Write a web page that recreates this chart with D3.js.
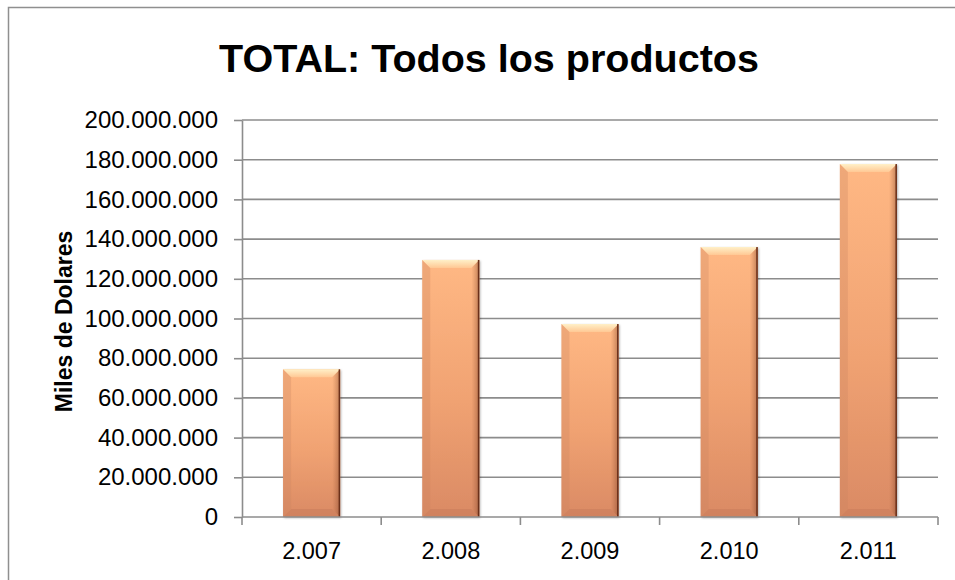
<!DOCTYPE html>
<html>
<head>
<meta charset="utf-8">
<script src="https://cdn.jsdelivr.net/npm/d3@7"></script>
<style>
  html, body { margin: 0; padding: 0; background: #fff; }
  #chart { width: 955px; height: 580px; overflow: hidden; }
  svg { display: block; font-family: "Liberation Sans", Arial, sans-serif; }
</style>
</head>
<body>
<div id="chart"></div>
<script>
// Datos (miles de dólares)
const years = ["2.007", "2.008", "2.009", "2.010", "2.011"];
const totals = [74400000, 129500000, 97200000, 136000000, 177800000];
const yTicks = [0, 20000000, 40000000, 60000000, 80000000, 100000000, 120000000, 140000000, 160000000, 180000000, 200000000];

const W = 955, H = 580;
const plot = { left: 242, right: 938, top: 120, bottom: 517 };

const svg = d3.select("#chart").append("svg")
  .attr("width", W).attr("height", H);

// marco exterior
svg.append("rect")
  .attr("x", 8.5).attr("y", 7.5)
  .attr("width", W).attr("height", H)
  .attr("fill", "none").attr("stroke", "#8f8f8f").attr("stroke-width", 1.5);

const x = d3.scaleBand().domain(years)
  .range([plot.left, plot.right])
  .paddingInner(0.59).paddingOuter(0.295);
const y = d3.scaleLinear().domain([0, 200000000]).range([plot.bottom, plot.top]);

const fmt = v => d3.format(",")(v).replace(/,/g, ".");

// rejilla
svg.append("g")
  .selectAll("line")
  .data(yTicks.filter(d => d > 0))
  .join("line")
    .attr("x1", plot.left).attr("x2", plot.right)
    .attr("y1", d => y(d)).attr("y2", d => y(d))
    .attr("stroke", "#8c8c8c").attr("stroke-width", 1.6);

// eje Y
const yAxis = svg.append("g")
  .attr("transform", `translate(${plot.left},0)`)
  .call(d3.axisLeft(y).tickValues(yTicks).tickFormat(fmt).tickSize(8).tickPadding(16).tickSizeOuter(0));
yAxis.select(".domain").attr("stroke", "#8c8c8c").attr("stroke-width", 1.6);
yAxis.selectAll(".tick line").attr("stroke", "#8c8c8c").attr("stroke-width", 1.6);
yAxis.selectAll(".tick text")
  .attr("font-size", 24).attr("fill", "#000")
  .attr("font-family", "'Liberation Sans', Arial, sans-serif");

// defs para los degradados de las barras
const defs = svg.append("defs");
const gBody = defs.append("linearGradient").attr("id", "body")
  .attr("x1", 0).attr("x2", 0).attr("y1", 0).attr("y2", 1);
gBody.append("stop").attr("offset", "0%").attr("stop-color", "#ffb884");
gBody.append("stop").attr("offset", "55%").attr("stop-color", "#f0a272");
gBody.append("stop").attr("offset", "100%").attr("stop-color", "#da8a64");

const gTop = defs.append("linearGradient").attr("id", "bevelTop")
  .attr("x1", 0).attr("x2", 0).attr("y1", 0).attr("y2", 1);
gTop.append("stop").attr("offset", "0%").attr("stop-color", "#fff0c8");
gTop.append("stop").attr("offset", "100%").attr("stop-color", "#ffc894");

const gSide = defs.append("linearGradient").attr("id", "bevelSide")
  .attr("x1", 0).attr("x2", 1).attr("y1", 0).attr("y2", 0);
gSide.append("stop").attr("offset", "0%").attr("stop-color", "#9a5634").attr("stop-opacity", 0.0);
gSide.append("stop").attr("offset", "100%").attr("stop-color", "#6b321b").attr("stop-opacity", 0.9);

const shadow = defs.append("filter").attr("id", "shadow")
  .attr("x", "-20%").attr("y", "-10%").attr("width", "140%").attr("height", "120%");
shadow.append("feDropShadow").attr("dx", 1).attr("dy", 1).attr("stdDeviation", 1.2)
  .attr("flood-color", "#000").attr("flood-opacity", 0.3);

const data = years.map((k, i) => ({ year: k, value: totals[i] }));

const bars = svg.append("g")
  .selectAll("g")
  .data(data)
  .join("g")
    .attr("transform", d => `translate(${x(d.year)},${y(d.value)})`);

const bw = x.bandwidth();
const bev = 8;

bars.append("rect")
  .attr("width", bw)
  .attr("height", d => y(0) - y(d.value))
  .attr("fill", "url(#body)")
  .attr("filter", "url(#shadow)");

// bisel superior
bars.append("path")
  .attr("d", `M0,0 L${bw},0 L${bw - bev},${bev} L${bev},${bev} Z`)
  .attr("fill", "url(#bevelTop)");

// bisel inferior
bars.append("path")
  .attr("d", d => {
    const h = y(0) - y(d.value);
    return `M0,${h} L${bw},${h} L${bw - bev},${h - bev} L${bev},${h - bev} Z`;
  })
  .attr("fill", "#c97d5c").attr("opacity", 0.6);

// bisel izquierdo
bars.append("path")
  .attr("d", d => {
    const h = y(0) - y(d.value);
    return `M0,0 L${bev},${bev} L${bev},${h - bev} L0,${h} Z`;
  })
  .attr("fill", "#c98560").attr("opacity", 0.3);

// bisel derecho
bars.append("path")
  .attr("d", d => {
    const h = y(0) - y(d.value);
    return `M${bw},0 L${bw - bev},${bev} L${bw - bev},${h - bev} L${bw},${h} Z`;
  })
  .attr("fill", "url(#bevelSide)").attr("opacity", 0.5);

bars.append("rect")
  .attr("x", bw - 1.5).attr("width", 1.5)
  .attr("height", d => y(0) - y(d.value))
  .attr("fill", "#6b301a");

// eje X
const xAxis = svg.append("g")
  .attr("transform", `translate(0,${plot.bottom})`)
  .call(d3.axisBottom(x).tickSize(0).tickPadding(25));
xAxis.select(".domain").remove();
xAxis.selectAll(".tick text")
  .attr("font-size", 23.5).attr("fill", "#000")
  .attr("font-family", "'Liberation Sans', Arial, sans-serif");

svg.append("line")
  .attr("x1", plot.left).attr("x2", plot.right)
  .attr("y1", plot.bottom).attr("y2", plot.bottom)
  .attr("stroke", "#8c8c8c").attr("stroke-width", 1.6);

// marcas entre categorías
const bounds = years.map(k => x(k) - x.step() * x.paddingOuter()).concat([plot.right]);
svg.append("g")
  .selectAll("line")
  .data(bounds)
  .join("line")
    .attr("x1", d => d).attr("x2", d => d)
    .attr("y1", plot.bottom).attr("y2", plot.bottom + 8)
    .attr("stroke", "#8c8c8c").attr("stroke-width", 1.6);

// título
svg.append("text")
  .attr("x", 489).attr("y", 72)
  .attr("text-anchor", "middle")
  .attr("font-size", 39.5).attr("font-weight", "bold")
  .text("TOTAL: Todos los productos");

// título del eje Y
svg.append("text")
  .attr("transform", `translate(72,${(plot.top + plot.bottom) / 2 + 3}) rotate(-90)`)
  .attr("text-anchor", "middle")
  .attr("font-size", 23).attr("font-weight", "bold")
  .text("Miles de Dolares");
</script>
</body>
</html>
